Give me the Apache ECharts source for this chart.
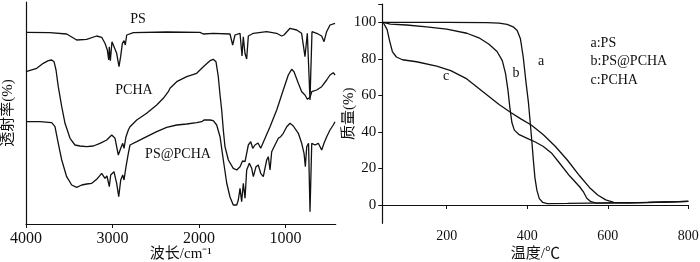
<!DOCTYPE html>
<html><head><meta charset="utf-8">
<script src="https://cdn.jsdelivr.net/npm/echarts@6/dist/echarts.min.js"></script>
<style>html,body{margin:0;padding:0;background:#fff}#c{width:700px;height:262px}</style>
</head><body><div id="c"></div>
<script>
// ---- FTIR (left panel): wavenumber (cm-1) and relative transmittance (arb. units) ----
const ftirTicks = [4000, 3000, 2000, 1000];
const psX = [4000,3723,3530,3414,3299,3183,3125,3087,3060,3044,3037,3025,3006,2983,2952,2925,2906,2886,2867,2852,2836,2759,2374,1989,1950,1835,1642,1611,1584,1526,1503,1488,1469,1449,1430,1372,1218,1103,1045,1018,948,871,814,775,748,733,717,694,640,582,555,525,486,428];
const psY = [191.7,191.3,190,184,184.7,188,186.7,180.7,174,164,177.3,163.3,182.3,184,170.7,157.3,167.3,180.7,183.3,179,189,191.3,192,191.7,190,190.7,190,179,189,190.7,168,187.3,170.7,165,188,190.7,192.3,190.7,188,189,195.7,194,190.7,167.3,190.7,192.3,124,192.3,190.7,188,182.3,192.3,199,200.7];
const pchaX = [4000,3876,3800,3742,3703,3676,3653,3627,3587,3549,3491,3434,3376,3298,3222,3145,3067,3009,2971,2933,2905,2882,2867,2844,2817,2798,2720,2605,2489,2413,2355,2335,2258,2142,2027,1950,1873,1835,1804,1777,1757,1738,1719,1700,1661,1604,1564,1526,1497,1468,1430,1402,1379,1353,1318,1287,1237,1179,1102,1026,968,929,902,852,813,775,748,717,697,640,582,524,486,448,428];
const pchaY = [152.3,155.7,160.7,163.3,164,162.3,154,137.3,117.3,100.7,85.7,79,78,77.3,78,80.7,84,89,85.7,69,75.7,80.7,75.7,87.3,94,97.3,104,110.7,119,125.7,132.3,135.7,142.3,147.3,150.7,157.3,163.3,164.7,162.3,147.3,129,114,94,77.3,64,55.7,54,57.3,63,62.3,79,82.3,75.7,79,81,75.7,85.7,97.3,114,134,149,154.7,152.3,140.7,132.3,129,124.7,126.7,132.3,134,137.3,144,149,151.3,149];
const pspX = [4000,3838,3703,3665,3627,3587,3530,3472,3414,3356,3298,3240,3183,3125,3087,3064,3037,3021,2983,2952,2928,2905,2882,2867,2844,2817,2798,2720,2605,2489,2374,2258,2142,2027,1969,1942,1919,1873,1835,1796,1757,1719,1680,1642,1604,1564,1546,1526,1507,1488,1468,1449,1418,1391,1372,1341,1315,1287,1257,1218,1199,1179,1160,1122,1083,1056,1026,986,948,910,852,813,786,771,755,734,717,697,659,621,582,555,524,486,448,428];
const pspY = [102.3,102.3,101.3,97.3,80.7,64,47.3,39,36.7,39,40,40.7,44.7,50.7,45.7,48,37.3,49,52.3,40.7,27.3,44,49,44,57.3,70.7,79,82.3,87.3,92.3,96.7,99,100,101.3,102.3,104,102,104,103.3,99,87.3,64,41,27,19,19,24,35.7,22.3,40.7,25.7,54,60.7,55.7,47.3,57.3,59,50.7,47.3,64,67.3,54,72.3,79,85.7,87.3,90.7,97.3,100.7,98,90.7,80.7,70.7,57.3,77.3,80.7,12.3,80.7,79,80.7,74,80.7,87.3,94,99,102.3];

// ---- TGA (right panel): temperature (°C) and mass (%) ----
const tgaXTicks = [200, 400, 600, 800];
const tgaYTicks = [0, 20, 40, 60, 80, 100];
const aT = [42,100,200,300,330,350,365,375,383,390,397,403,407,411,415,419,424,430,438,450,500,600,700,800];
const aM = [100,100,100,99.8,99.5,98.8,97.5,95.5,91,81,67,56,46,36,25,15,8,3.5,1.5,0.8,0.9,1.2,1.5,2];
const bT = [42,60,100,150,200,250,280,305,325,338,346,352,357,362,368,380,400,420,440,460,480,505,530,540,548,558,572,650,800];
const bM = [100,99,98.5,97.5,96.3,94,91.5,88,84,79,72,63,53,45,41,38.5,36.5,34.5,32,28.5,23,16,10,7,3.7,1.8,1,1.2,2];
const cT = [42,52,58,65,75,90,125,175,210,250,290,330,360,385,410,440,470,500,530,555,575,595,615,650,700,800];
const cM = [100,96,90,84,81,79.5,78.4,76,73.5,69,62,55,50.5,47,43.8,38.5,32,24.5,16,9.5,5.5,2.8,1.5,1.2,1.3,2];

const FONT = "'Liberation Serif','Times New Roman','Noto Sans CJK SC',serif";
const INK = '#111';
const plain = v => String(v);
const zip = (xs, ys) => xs.map((x, i) => [x, ys[i]]);
const line = (xi, xs, ys) => ({
  type: 'line', xAxisIndex: xi, yAxisIndex: xi, data: zip(xs, ys),
  showSymbol: false, symbol: 'none', lineStyle: { color: INK, width: 1.3 }, silent: true
});
const txt = (text, x, y, size, align) => ({
  type: 'text', x: x, y: y, silent: true,
  style: { text: text, fill: INK, font: size + 'px ' + FONT, textAlign: align || 'center', textVerticalAlign: 'middle' }
});

const chart = echarts.init(document.getElementById('c'), null, { renderer: 'canvas' });
chart.setOption({
  animation: false,
  backgroundColor: '#fff',
  grid: [
    { left: 26, top: 2, width: 309.7, height: 222, outerBoundsMode: 'none', containLabel: false },
    { left: 382.3, top: 4, width: 306, height: 219.3, outerBoundsMode: 'none', containLabel: false }
  ],
  xAxis: [
    { type: 'value', gridIndex: 0, inverse: true, min: 420, max: 4000,
      axisLine: { lineStyle: { color: INK, width: 1.2 } },
      axisTick: { customValues: ftirTicks, length: 4, lineStyle: { color: INK } },
      axisLabel: { customValues: ftirTicks, formatter: plain, color: INK, fontSize: 16, fontFamily: FONT, margin: 7 },
      splitLine: { show: false },
      name: '波长/cm⁻¹', nameLocation: 'middle', nameGap: 23, nameMoveOverlap: false,
      nameTextStyle: { color: INK, fontSize: 15, fontFamily: FONT } },
    { type: 'value', gridIndex: 1, min: 40, max: 800,
      axisLine: { lineStyle: { color: INK, width: 1.2 } },
      axisTick: { customValues: tgaXTicks, length: 4, lineStyle: { color: INK } },
      axisLabel: { customValues: tgaXTicks, formatter: plain, color: INK, fontSize: 14, fontFamily: FONT, margin: 6 },
      splitLine: { show: false },
      name: '温度/℃', nameLocation: 'middle', nameGap: 23, nameMoveOverlap: false,
      nameTextStyle: { color: INK, fontSize: 15, fontFamily: FONT } }
  ],
  yAxis: [
    { type: 'value', gridIndex: 0, min: 0, max: 222,
      axisLine: { show: true, lineStyle: { color: INK, width: 1.2 } },
      axisTick: { show: false }, axisLabel: { show: false }, splitLine: { show: false },
      name: '透射率(%)', nameLocation: 'middle', nameGap: 10, nameRotate: 90, nameMoveOverlap: false,
      nameTextStyle: { color: INK, fontSize: 15, fontFamily: FONT } },
    { type: 'value', gridIndex: 1, min: -10, max: 110,
      axisLine: { show: true, lineStyle: { color: INK, width: 1.2 } },
      axisTick: { show: true, customValues: tgaYTicks.concat([110]), length: 4, lineStyle: { color: INK } },
      axisLabel: { customValues: tgaYTicks, formatter: plain, color: INK, fontSize: 15, fontFamily: FONT, margin: 6 },
      splitLine: { show: false },
      name: '质量(%)', nameLocation: 'middle', nameGap: 26, nameRotate: 90, nameMoveOverlap: false,
      nameTextStyle: { color: INK, fontSize: 15, fontFamily: FONT } }
  ],
  series: [
    line(0, psX, psY), line(0, pchaX, pchaY), line(0, pspX, pspY),
    line(1, aT, aM), line(1, bT, bM), line(1, cT, cM)
  ],
  graphic: [
    txt('PS', 138, 19, 14), txt('PCHA', 134, 90, 14), txt('PS@PCHA', 178, 154, 14),
    txt('a', 541, 61, 14), txt('b', 516, 73, 14), txt('c', 446, 76, 14),
    txt('a:PS', 590.5, 43.5, 14, 'left'), txt('b:PS@PCHA', 590.5, 61.5, 14, 'left'), txt('c:PCHA', 590.5, 80, 14, 'left')
  ]
});
</script></body></html>
